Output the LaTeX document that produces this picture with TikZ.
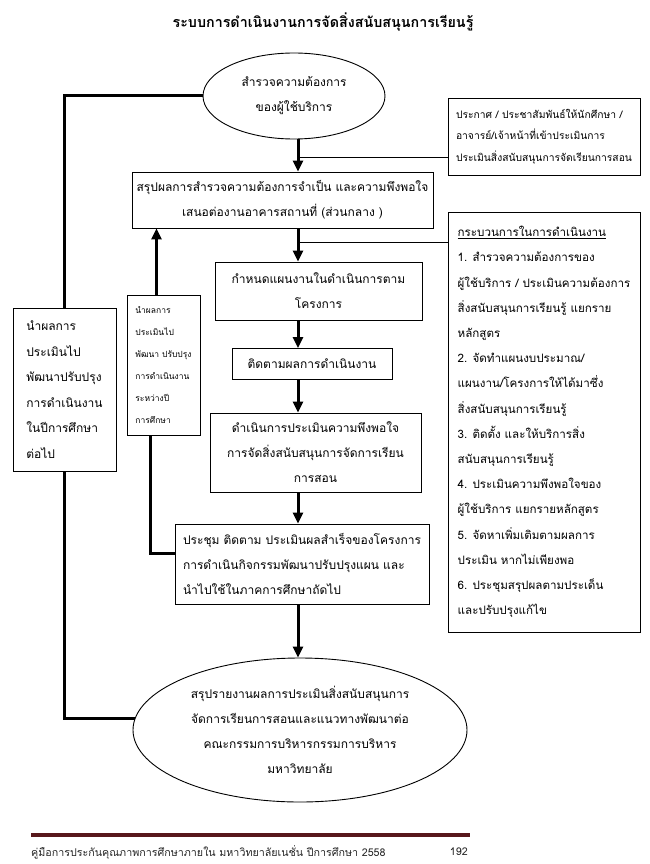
\documentclass[tikz,border=0pt]{standalone}
\usepackage{fontspec}
\newfontfamily\thai[Script=Thai]{Loma}
\usetikzlibrary{arrows.meta,shapes.geometric,calc}
\definecolor{footred}{RGB}{88,24,28}
\begin{document}
\begin{tikzpicture}[x=1pt,y=-1pt,
  base/.style={draw, line width=0.9pt, inner sep=0pt, font=\thai\fontsize{12}{25}\selectfont},
  box/.style={base, rectangle, align=center},
  lbox/.style={base, rectangle, align=left},
  oval/.style={base, ellipse, align=center},
  flow/.style={line width=3pt, -{Triangle[width=10pt,length=11pt]}},
  loop/.style={line width=3pt},
  link/.style={line width=0.9pt}
]
\path[use as bounding box] (0,0) rectangle (649,864);

\node[font=\thai\bfseries\fontsize{14.3}{18}\selectfont] (title) at (323,22) {ระบบการดำเนินงานการจัดสิ่งสนับสนุนการเรียนรู้};

\node[oval, minimum width=182pt, minimum height=86pt] (topell) at (294,96)
  {สำรวจความต้องการ\\ของผู้ใช้บริการ};

\node[lbox, minimum width=192pt, minimum height=77pt, font=\thai\fontsize{10.3}{21.5}\selectfont] (announce) at (544,136.5)
  {ประกาศ / ประชาสัมพันธ์ให้นักศึกษา /\\อาจารย์/เจ้าหน้าที่เข้าประเมินการ\\ประเมินสิ่งสนับสนุนการจัดเรียนการสอน};

\node[box, minimum width=301pt, minimum height=56pt] (box2) at (282.5,200)
  {สรุปผลการสำรวจความต้องการจำเป็น และความพึงพอใจ\\เสนอต่องานอาคารสถานที่ (ส่วนกลาง )};

\node[lbox, minimum width=192pt, minimum height=420pt, font=\thai\fontsize{11.6}{25.2}\selectfont] (process) at (544,422)
  {\underline{กระบวนการในการดำเนินงาน}\\
   1. สำรวจความต้องการของ\\
   ผู้ใช้บริการ / ประเมินความต้องการ\\
   สิ่งสนับสนุนการเรียนรู้ แยกราย\\
   หลักสูตร\\
   2. จัดทำแผนงบประมาณ/\\
   แผนงาน/โครงการให้ได้มาซึ่ง\\
   สิ่งสนับสนุนการเรียนรู้\\
   3. ติดตั้ง และให้บริการสิ่ง\\
   สนับสนุนการเรียนรู้\\
   4. ประเมินความพึงพอใจของ\\
   ผู้ใช้บริการ แยกรายหลักสูตร\\
   5. จัดหาเพิ่มเติมตามผลการ\\
   ประเมิน หากไม่เพียงพอ\\
   6. ประชุมสรุปผลตามประเด็น\\
   และปรับปรุงแก้ไข};

\node[box, minimum width=207pt, minimum height=58pt] (box3) at (318.5,291)
  {กำหนดแผนงานในดำเนินการตาม\\โครงการ};

\node[box, minimum width=160pt, minimum height=31pt] (box4) at (312,364)
  {ติดตามผลการดำเนินงาน};

\node[box, minimum width=211pt, minimum height=79pt] (box5) at (315.5,452.5)
  {ดำเนินการประเมินความพึงพอใจ\\การจัดสิ่งสนับสนุนการจัดการเรียน\\การสอน};

\node[lbox, minimum width=254pt, minimum height=80pt] (box6) at (302,564)
  {ประชุม ติดตาม ประเมินผลสำเร็จของโครงการ\\การดำเนินกิจกรรมพัฒนาปรับปรุงแผน และ\\นำไปใช้ในภาคการศึกษาถัดไป};

\node[lbox, minimum width=73pt, minimum height=140pt, font=\thai\fontsize{8.5}{22}\selectfont] (small) at (163.5,365)
  {นำผลการ\\ประเมินไป\\พัฒนา ปรับปรุง\\การดำเนินงาน\\ระหว่างปี\\การศึกษา};

\node[lbox, minimum width=103pt, minimum height=163pt, font=\thai\fontsize{12}{25.5}\selectfont] (leftbox) at (64.5,389.5)
  {นำผลการ\\ประเมินไป\\พัฒนาปรับปรุง\\การดำเนินงาน\\ในปีการศึกษา\\ต่อไป};

\node[oval, minimum width=334pt, minimum height=144pt] (bell) at (300,730)
  {สรุปรายงานผลการประเมินสิ่งสนับสนุนการ\\จัดการเรียนการสอนและแนวทางพัฒนาต่อ\\คณะกรรมการบริหารกรรมการบริหาร\\มหาวิทยาลัย};

% main axis
\coordinate (axis) at (298,0);
\draw[flow] (topell.south -| axis) -- (box2.north -| axis);
\draw[flow] (box2.south -| axis) -- (box3.north -| axis);
\draw[flow] (box3.south -| axis) -- (box4.north -| axis);
\draw[flow] (box4.south -| axis) -- (box5.north -| axis);
\draw[flow] (box5.south -| axis) -- (box6.north -| axis);
\draw[flow] (box6.south -| axis) -- (bell.north -| axis);

% side notes
\coordinate (a1) at ([yshift=18pt]announce.south west);
\draw[link] (a1) -- (a1 -| axis);
\coordinate (a2) at ([yshift=-31pt]process.north west);
\draw[link] (a2) -- (a2 -| axis);

% inner feedback loop
\coordinate (s0) at ([yshift=11pt]box6.west);
\coordinate (s1) at ([xshift=-13pt]small.south);
\draw[loop] (s0) -| (s1);
\coordinate (s2) at ([xshift=-7pt]small.north);
\draw[flow] (s2) -- (s2 |- box2.south);

% outer loop
\draw[loop] (bell.176) -| (leftbox.south);
\draw[loop] (leftbox.north) |- (topell.west);

% footer
\coordinate (f1) at (31,835);
\coordinate (f2) at (470,835);
\draw[footred, line width=4pt] (f1) -- (f2);
\node[anchor=west, inner sep=0pt, font=\thai\fontsize{10.7}{12}\selectfont, text=black!85] (foot) at (31,852)
  {คู่มือการประกันคุณภาพการศึกษาภายใน มหาวิทยาลัยเนชั่น ปีการศึกษา 2558};
\node[anchor=east, inner sep=0pt, font=\thai\fontsize{10.7}{12}\selectfont, text=black!85] (page) at (468,852) {192};
\end{tikzpicture}
\end{document}
